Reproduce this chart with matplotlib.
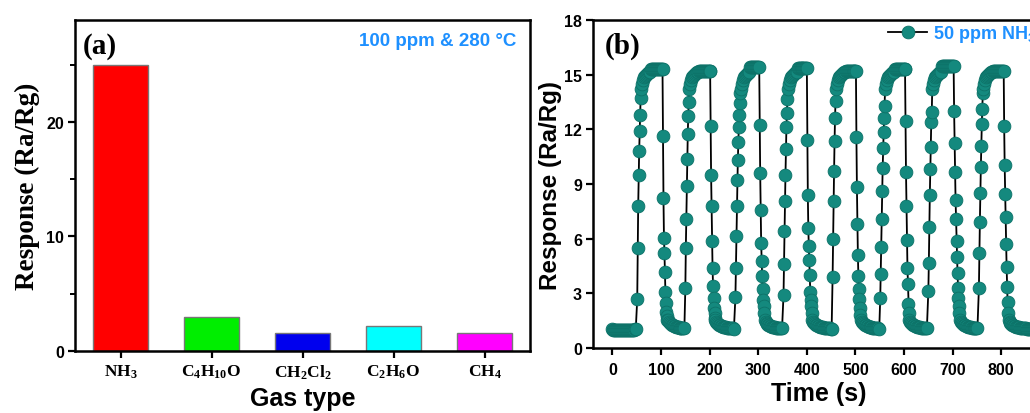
import numpy as np
import matplotlib
matplotlib.use('Agg')
from matplotlib import pyplot as plt
from matplotlib.ticker import MultipleLocator

plt.rcParams['mathtext.default'] = 'regular'

# (a) selectivity data
gases = ['NH$_3$', 'C$_4$H$_{10}$O', 'CH$_2$Cl$_2$', 'C$_2$H$_6$O', 'CH$_4$']
responses = [25.0, 2.95, 1.55, 2.2, 1.55]
bar_colors = ['#ff0000', '#00ee00', '#0000ee', '#00ffff', '#ff00ff']

# (b) repeatability, 8 cycles of 50 ppm NH3
baseline0 = [1.02, 1.0, 0.99, 1.0, 1.01, 1.0, 0.99, 1.0, 1.0, 1.01, 1.0, 0.99,
             1.0, 1.0, 1.01, 1.0, 1.0, 0.99, 1.0, 1.0, 1.01, 1.0, 1.0, 1.02, 1.03]
rise_start = [51, 150, 253, 352, 453, 551, 650, 754]
fall_start = [103, 201, 302, 400, 501, 602, 702, 805]
plateau = [15.3, 15.2, 15.4, 15.35, 15.2, 15.3, 15.45, 15.2]
rises = [
    [2.68, 5.5, 7.8, 9.47, 10.8, 11.9, 12.8, 13.7],
    [3.28, 5.5, 7.07, 8.87, 10.35, 11.75, 12.75, 13.5],
    [2.79, 4.37, 6.14, 7.8, 9.2, 10.33, 11.33, 12.11, 12.79, 13.42, 14.0],
    [2.91, 4.6, 6.43, 8.05, 9.5, 10.9, 12.15, 12.9, 13.66],
    [3.92, 5.97, 8.07, 9.69, 11.35, 12.62, 13.57],
    [2.73, 4.04, 5.56, 7.07, 8.6, 9.87, 10.98, 11.84, 12.62, 13.3],
    [3.15, 4.68, 6.65, 8.38, 9.8, 11.02, 12.42, 12.93],
    [3.28, 5.19, 6.92, 8.5, 9.93, 11.11, 12.3, 13.11, 14.0],
]
falls = [
    [11.66, 8.23, 6.05, 5.23, 4.15, 3.06, 2.46, 2.0, 1.73, 1.55],
    [12.2, 9.47, 7.8, 5.87, 4.37, 3.42, 2.73, 2.22, 1.9, 1.64],
    [12.26, 9.62, 7.56, 5.77, 4.77, 3.97, 3.24, 2.64, 2.28, 1.9],
    [11.44, 8.42, 6.6, 5.6, 4.83, 4.0, 3.1, 2.64, 2.28, 1.9],
    [11.57, 8.83, 6.83, 5.1, 3.97, 3.24, 2.68, 2.22, 1.82],
    [12.44, 9.65, 7.8, 5.92, 4.4, 3.5, 2.42, 1.9],
    [13.02, 11.26, 9.65, 8.1, 7.07, 5.87, 5.0, 4.13, 3.32, 2.73, 2.3, 1.9],
    [12.2, 10.05, 8.47, 7.2, 5.68, 4.46, 3.37, 2.51, 1.9],
]
approach = [14.2, 14.5, 14.7, 14.85, 14.95, 15.0, 15.05, 15.1, 15.12, 15.15]
tail = [1.55, 1.45, 1.38, 1.32, 1.27, 1.24, 1.21, 1.19, 1.17, 1.15, 1.14,
        1.13, 1.12, 1.11, 1.1, 1.1, 1.09, 1.08, 1.08, 1.07, 1.07, 1.06]

# build time series
t_all = list(np.arange(0, 50, 2)[:len(baseline0)])
r_all = list(baseline0)
for k in range(8):
    t0 = rise_start[k]
    for i, v in enumerate(rises[k]):
        t_all.append(t0 + i)
        r_all.append(v)
    t = t0 + len(rises[k])
    for v in approach:
        t_all.append(t)
        r_all.append(min(v, plateau[k]))
        t += 2
    while t < fall_start[k]:
        t_all.append(t)
        r_all.append(plateau[k])
        t += 2
    t_all.append(fall_start[k])
    r_all.append(plateau[k])
    t = fall_start[k] + 1
    for v in falls[k]:
        t_all.append(t)
        r_all.append(v)
        t += 1
    t_end = rise_start[k + 1] if k < 7 else 890
    j = 0
    while t < t_end - 1:
        t_all.append(t)
        r_all.append(tail[min(j, len(tail) - 1)])
        j += 1
        t += 2

fig = plt.figure(figsize=(10.30, 4.14), dpi=100)

W, H = 1030, 414
ax1 = fig.add_axes([75 / W, 1 - 352 / H, 455 / W, 331 / H])
ax2 = fig.add_axes([593 / W, 1 - 349 / H, 452 / W, 328 / H])

# panel (a)
x = np.arange(len(gases))
ax1.bar(x, responses, width=0.6, color=bar_colors, edgecolor='#777777', linewidth=1)
ax1.set_xlim(-0.5, 4.5)
ax1.set_ylim(0, 28.9)
ax1.set_xticks(x)
ax1.set_xticklabels(gases, family='Liberation Serif', fontweight='bold', fontsize=12.5)
ax1.yaxis.set_major_locator(MultipleLocator(10))
ax1.yaxis.set_minor_locator(MultipleLocator(5))
for lab in ax1.get_yticklabels():
    lab.set_fontweight('bold')
    lab.set_fontsize(11.5)
    lab.set_family('Liberation Sans')
ax1.set_ylabel('Response (Ra/Rg)', family='Liberation Serif', fontweight='bold',
               fontsize=19.5, labelpad=4)
ax1.set_xlabel('Gas type', family='Liberation Sans', fontweight='bold', fontsize=18, labelpad=4)
ax1.text(0.018, 0.965, '(a)', transform=ax1.transAxes, family='Liberation Serif',
         fontweight='bold', fontsize=21, va='top', ha='left')
ax1.text(0.97, 0.965, '100 ppm & 280 °C', transform=ax1.transAxes, family='Liberation Sans',
         fontweight='bold', fontsize=13.5, color='#1e90ff', va='top', ha='right')

# panel (b)
ax2.plot(t_all, r_all, '-o', color='black', lw=1.3, markersize=9.2,
         markerfacecolor='#14897e', markeredgecolor='#0d7268', markeredgewidth=0.6,
         label='50 ppm NH$_3$')
ax2.set_xlim(-40, 890)
ax2.set_ylim(0, 18)
ax2.xaxis.set_major_locator(MultipleLocator(100))
ax2.yaxis.set_major_locator(MultipleLocator(3))
for lab in ax2.get_xticklabels() + ax2.get_yticklabels():
    lab.set_fontweight('bold')
    lab.set_fontsize(11.5)
    lab.set_family('Liberation Sans')
ax2.set_xlabel('Time (s)', family='Liberation Sans', fontweight='bold', fontsize=18, labelpad=3)
ax2.set_ylabel('Response (Ra/Rg)', family='Liberation Sans', fontweight='bold',
               fontsize=17.5, labelpad=1)
ax2.text(0.026, 0.965, '(b)', transform=ax2.transAxes, family='Liberation Serif',
         fontweight='bold', fontsize=21, va='top', ha='left')
leg = ax2.legend(loc='upper left', bbox_to_anchor=(0.652, 0.99), frameon=False,
                 borderpad=0, borderaxespad=0, handlelength=2.2, handletextpad=0.3,
                 prop={'family': 'Liberation Sans', 'weight': 'bold', 'size': 13})
for txt in leg.get_texts():
    txt.set_color('#1e90ff')

for ax in (ax1, ax2):
    for s in ax.spines.values():
        s.set_linewidth(1.8)
    ax.tick_params(which='major', direction='out', length=5, width=1.6, pad=3)
    ax.tick_params(which='minor', direction='out', length=3.5, width=1.4)
ax2.tick_params(axis='x', pad=5)

fig.savefig('out.png', dpi=100)
